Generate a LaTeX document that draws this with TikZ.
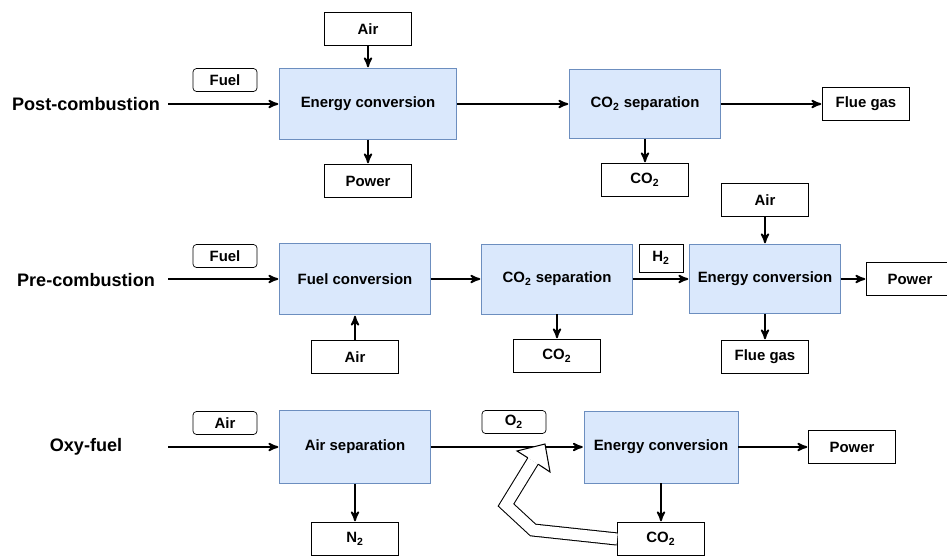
\documentclass[tikz,border=0pt]{standalone}
\usepackage{fontspec}
\setmainfont{Liberation Sans}
\usetikzlibrary{arrows, positioning}
\definecolor{procfill}{HTML}{DAE8FC}
\definecolor{procline}{HTML}{6C8EBF}

\begin{document}
\begin{tikzpicture}[x=0.02cm, y=-0.02cm,
  font=\bfseries\fontsize{8.5}{10}\selectfont,
  proc/.style={rectangle, draw=procline, fill=procfill, inner sep=0pt,
    minimum width=3.02cm, minimum height=1.42cm},
  item/.style={rectangle, draw, thin, inner sep=0pt,
    minimum width=1.74cm, minimum height=0.66cm},
  tag/.style={rectangle, rounded corners=2pt, draw, thin, inner sep=0pt,
    minimum width=1.28cm, minimum height=0.46cm},
  rowname/.style={font=\bfseries\fontsize{10.3}{12}\selectfont},
  flow/.style={->, >=stealth', line width=1pt, shorten >=0.5pt}]

  \useasboundingbox (0,0) rectangle (947,558);

  % post-combustion
  \node[rowname] (post) at (86,104) {Post-combustion};
  \coordinate (in1) at (168,104);
  \node[proc, minimum width=3.54cm] (ec1) at (368,104) {Energy conversion};
  \node[item] (air1) at (368,29) {Air};
  \node[item] (pow1) at (368,181) {Power};
  \node[tag] (fuel1) at (225,80) {Fuel};
  \node[proc, minimum height=1.38cm] (cs1) at (645,104) {CO\textsubscript{2} separation};
  \node[item] (co2a) at (645,180) {CO\textsubscript{2}};
  \node[item] (flue1) at (866,104) {Flue gas};
  \draw[flow] (in1) -- (ec1);
  \draw[flow] (air1) -- (ec1);
  \draw[flow] (ec1) -- (pow1);
  \draw[flow] (ec1) -- (cs1);
  \draw[flow] (cs1) -- (co2a);
  \draw[flow] (cs1) -- (flue1);

  % pre-combustion
  \node[rowname] (pre) at (86,280) {Pre-combustion};
  \coordinate (in2) at (168,279);
  \node[proc] (fc2) at (355,279) {Fuel conversion};
  \node[tag] (fuel2) at (225,256) {Fuel};
  \node[item] (air2) at (355,357) {Air};
  \node[proc, minimum height=1.40cm] (cs2) at (557,279) {CO\textsubscript{2} separation};
  \node[item] (co2b) at (557,356) {CO\textsubscript{2}};
  \node[proc, minimum height=1.38cm] (ec2) at (765,279) {Energy conversion};
  \node[item, minimum width=0.88cm, minimum height=0.56cm] (h2) at (661,258) {H\textsubscript{2}};
  \node[item] (air3) at (765,200) {Air};
  \node[item] (pow2) at (910,279) {Power};
  \node[item] (flue2) at (765,357) {Flue gas};
  \draw[flow] (in2) -- (fc2);
  \draw[flow] (air2) -- (fc2);
  \draw[flow] (fc2) -- (cs2);
  \draw[flow] (cs2) -- (co2b);
  \draw[flow] (cs2) -- (ec2);
  \draw[flow] (air3) -- (ec2);
  \draw[flow] (ec2) -- (pow2);
  \draw[flow] (ec2) -- (flue2);

  % oxy-fuel
  \node[rowname] (oxy) at (86,447) {Oxy-fuel};
  \coordinate (in3) at (168,447);
  \node[proc, minimum height=1.46cm] (as3) at (355,447) {Air separation};
  \node[tag] (air4) at (225,423) {Air};
  \node[item] (n2) at (355,539) {N\textsubscript{2}};
  \node[proc, minimum width=3.08cm, minimum height=1.44cm] (ec3) at (661,447) {Energy conversion};
  \node[tag] (o2) at (514,422) {O\textsubscript{2}};
  \node[item] (pow3) at (852,447) {Power};
  \node[item] (co2c) at (661,539) {CO\textsubscript{2}};
  \draw[flow] (in3) -- (as3);
  \draw[flow] (as3) -- (n2);
  \draw[flow] (as3) -- (ec3);
  \draw[flow] (ec3) -- (pow3);
  \draw[flow] (ec3) -- (co2c);

  % recycle
  \coordinate (rc1) at (533,530);
  \coordinate (rc2) at (506,505);
  \coordinate (rcbase) at (533,461);
  \coordinate (rcin1) at (527.8,457.8);
  \coordinate (rcin2) at (538.2,464.2);
  \coordinate (rcwl) at (517,451);
  \coordinate (rcwr) at (550,472);
  \coordinate (rctip) at (545,444);
  \draw[line width=0.6pt, double=white, double distance=0.22cm]
    (co2c.west) -- (rc1) -- (rc2) -- (rcbase);
  \filldraw[fill=white, line width=0.6pt]
    (rcin1) -- (rcwl) -- (rctip) -- (rcwr) -- (rcin2);
\end{tikzpicture}
\end{document}
